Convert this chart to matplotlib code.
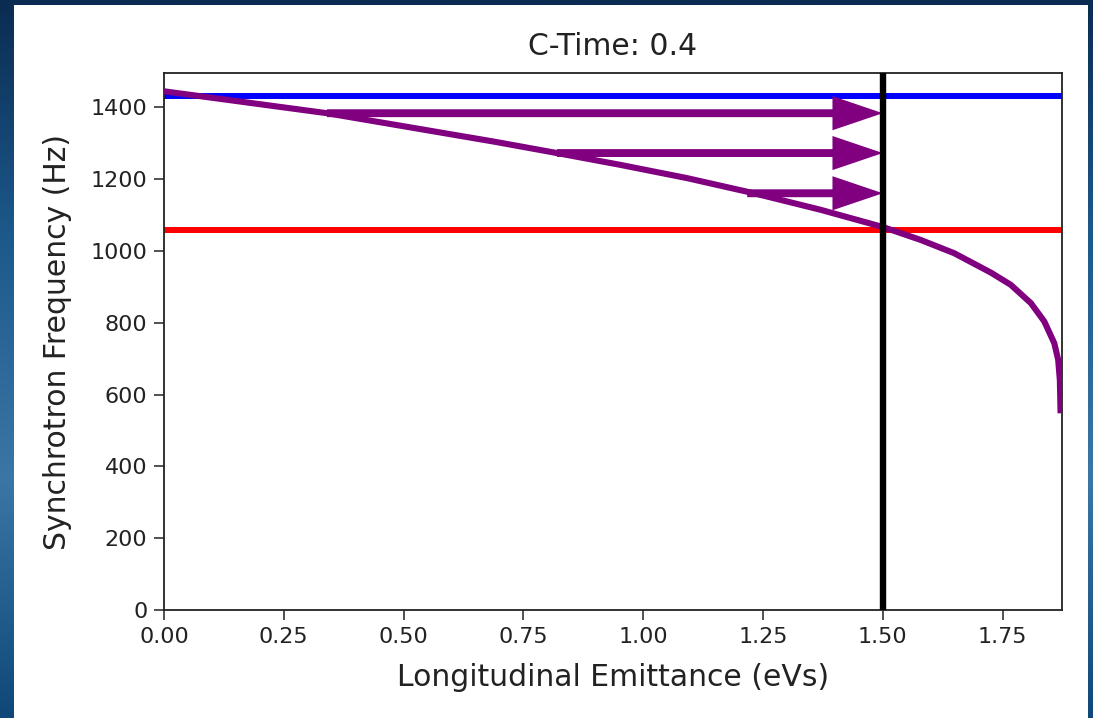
import numpy as np
import matplotlib
matplotlib.use("Agg")
import matplotlib.pyplot as plt
from matplotlib.patches import Rectangle
from matplotlib.colors import LinearSegmentedColormap

# Synchrotron frequency versus longitudinal emittance (single-particle curve)
emittance = [0.0, 0.34, 0.688, 0.82, 0.9526, 1.092, 1.231, 1.370, 1.5, 1.579,
             1.649, 1.7255, 1.767, 1.809, 1.837, 1.858, 1.866, 1.8695, 1.871]
frequency = [1445, 1384, 1305, 1273, 1240, 1203, 1161, 1115, 1067, 1031,
             994, 940, 906, 855, 804, 743, 697, 641, 548]

# Reference levels
upper_freq = 1433
lower_freq = 1060
target_emittance = 1.5

# Arrows from the curve to the target emittance
arrow_start_x = [0.34, 0.82, 1.217]
arrow_y = [1384, 1273, 1161]

x_ticks = [0.0, 0.25, 0.5, 0.75, 1.0, 1.25, 1.5, 1.75]
y_ticks = [0, 200, 400, 600, 800, 1000, 1200, 1400]

W, H, DPI = 1093, 718, 100
fig = plt.figure(figsize=(W / DPI, H / DPI), dpi=DPI)

# Dark blue slide backdrop with a white panel
bg = fig.add_axes([0, 0, 1, 1], zorder=-10)
bg.set_axis_off()
grad = np.linspace(0, 1, 256).reshape(-1, 1)
cmap_bg = LinearSegmentedColormap.from_list("bg", ["#0a2c52", "#1d5a8c", "#3a77a6", "#0f4878"])
bg.imshow(grad, aspect="auto", cmap=cmap_bg, extent=[0, 1, 0, 1], origin="upper")
bg.add_patch(Rectangle((14 / W, 0), (1088 - 14) / W, 1 - 5 / H,
                       transform=bg.transAxes, facecolor="white", edgecolor="none"))
bg.set_xlim(0, 1)
bg.set_ylim(0, 1)

ax = fig.add_axes([164 / W, 1 - 610 / H, (1062 - 164) / W, (610 - 73) / H])
ax.set_facecolor("white")

ax.plot(emittance, frequency, color="purple", lw=4.4, zorder=3,
        solid_joinstyle="round", solid_capstyle="butt")
ax.axhline(upper_freq, color="blue", lw=4.3, zorder=2)
ax.axhline(lower_freq, color="red", lw=4.3, zorder=2)
ax.axvline(target_emittance, color="black", lw=4.6, zorder=4)

for x0, y0 in zip(arrow_start_x, arrow_y):
    ax.arrow(x0, y0, target_emittance - x0, 0, width=22, head_width=95,
             head_length=0.105, length_includes_head=True,
             color="purple", lw=0, zorder=3)

ax.set_xlim(0, 1.874)
ax.set_ylim(0, 1496)
ax.set_xticks(x_ticks)
ax.set_yticks(y_ticks)
ax.xaxis.set_major_formatter(matplotlib.ticker.FormatStrFormatter("%.2f"))
ax.tick_params(labelsize=16, length=7, width=1.1, pad=5,
               colors="#222222", labelcolor="#222222")
for s in ax.spines.values():
    s.set_linewidth(1.3)
    s.set_color("#222222")

ax.set_xlabel("Longitudinal Emittance (eVs)", fontsize=21.5, color="#222222", labelpad=11.5)
ax.set_ylabel("Synchrotron Frequency (Hz)", fontsize=21.5, color="#222222", labelpad=13)
ax.set_title("C-Time: 0.4", fontsize=21.5, color="#222222", pad=13)

fig.savefig("out.png", dpi=DPI)
